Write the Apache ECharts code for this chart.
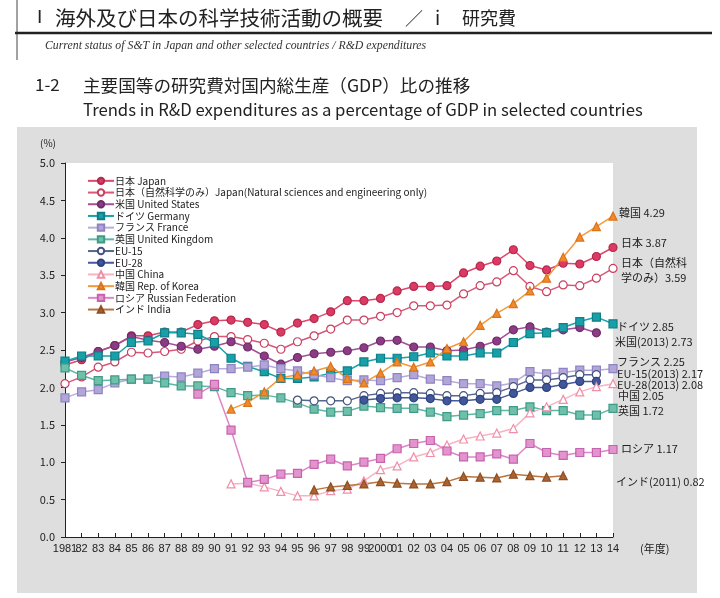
<!DOCTYPE html>
<html><head><meta charset="utf-8">
<script src="https://cdn.jsdelivr.net/npm/echarts@6/dist/echarts.min.js"></script>
<style>html,body{margin:0;padding:0;background:#fff}#c{width:720px;height:598px}</style>
</head><body><div id="c"></div>
<script>
const years = ['1981','82','83','84','85','86','87','88','89','90','91','92','93','94','95','96','97','98','99','2000','01','02','03','04','05','06','07','08','09','10','11','12','13','14'];
const yTicks = [0,0.5,1,1.5,2,2.5,3,3.5,4,4.5,5];
const japan = [2.30,2.37,2.48,2.56,2.69,2.69,2.74,2.74,2.84,2.89,2.90,2.87,2.84,2.74,2.86,2.92,3.01,3.16,3.16,3.19,3.29,3.35,3.35,3.36,3.53,3.62,3.69,3.84,3.63,3.57,3.66,3.65,3.75,3.87];
const japanNS = [2.05,2.14,2.27,2.34,2.47,2.46,2.48,2.51,2.62,2.68,2.68,2.64,2.59,2.51,2.61,2.69,2.78,2.90,2.90,2.95,3.00,3.09,3.09,3.10,3.25,3.36,3.41,3.56,3.35,3.28,3.37,3.36,3.46,3.59];
const us = [2.34,2.40,2.48,2.56,2.68,2.63,2.60,2.55,2.51,2.55,2.61,2.54,2.42,2.31,2.40,2.45,2.47,2.49,2.53,2.62,2.63,2.54,2.54,2.49,2.50,2.55,2.62,2.77,2.81,2.74,2.77,2.80,2.73,null];
const germany = [2.35,2.42,2.42,2.42,2.60,2.62,2.73,2.73,2.71,2.60,2.39,2.28,2.21,2.12,2.12,2.14,2.19,2.22,2.34,2.39,2.39,2.41,2.46,2.42,2.42,2.46,2.46,2.60,2.72,2.73,2.80,2.88,2.94,2.85];
const france = [1.86,1.94,1.97,2.06,2.11,2.11,2.15,2.14,2.19,2.25,2.25,2.27,2.30,2.25,2.22,2.17,2.13,2.09,2.10,2.09,2.13,2.17,2.11,2.09,2.05,2.05,2.02,2.06,2.21,2.18,2.20,2.23,2.23,2.25];
const uk = [2.26,2.16,2.09,2.10,2.11,2.11,2.06,2.02,2.02,2.01,1.93,1.89,1.90,1.86,1.79,1.71,1.67,1.68,1.75,1.73,1.72,1.72,1.67,1.61,1.63,1.65,1.69,1.69,1.74,1.69,1.69,1.63,1.63,1.72];
const eu15 = [null,null,null,null,null,null,null,null,null,null,null,null,null,null,1.83,1.82,1.82,1.82,1.89,1.92,1.93,1.93,1.92,1.89,1.89,1.92,1.93,2.01,2.10,2.10,2.13,2.17,2.17,null];
const eu28 = [null,null,null,null,null,null,null,null,null,null,null,null,null,null,null,null,null,null,1.83,1.85,1.86,1.86,1.85,1.82,1.82,1.84,1.84,1.92,2.00,2.00,2.04,2.08,2.08,null];
const china = [null,null,null,null,null,null,null,null,null,null,0.71,0.72,0.67,0.61,0.55,0.55,0.62,0.64,0.75,0.90,0.95,1.07,1.13,1.23,1.31,1.35,1.39,1.45,1.66,1.74,1.84,1.94,2.01,2.05];
const korea = [null,null,null,null,null,null,null,null,null,null,1.71,1.80,1.94,2.13,2.17,2.22,2.28,2.12,2.06,2.19,2.34,2.27,2.34,2.52,2.61,2.83,2.99,3.12,3.29,3.46,3.74,4.01,4.15,4.29];
const russia = [null,null,null,null,null,null,null,null,1.91,2.04,1.43,0.73,0.77,0.84,0.85,0.97,1.04,0.95,1.00,1.05,1.18,1.25,1.29,1.15,1.07,1.07,1.11,1.04,1.25,1.13,1.09,1.13,1.13,1.17];
const india = [null,null,null,null,null,null,null,null,null,null,null,null,null,null,null,0.63,0.67,0.69,0.71,0.74,0.72,0.71,0.71,0.74,0.81,0.80,0.79,0.84,0.82,0.80,0.82,null,null,null];
const seriesNames = ['日本 Japan','日本（自然科学のみ）Japan(Natural sciences and engineering only)','米国 United States','ドイツ Germany','フランス France','英国 United Kingdom','EU-15','EU-28','中国 China','韓国 Rep. of Korea','ロシア Russian Federation','インド India'];
const endLabels = [
  ['韓国 4.29',619,213],['日本 3.87',621,243],['日本（自然科',621,263],['学のみ）3.59',621,278],
  ['ドイツ 2.85',617,327],['米国(2013) 2.73',615,342],['フランス 2.25',617,362],['EU-15(2013) 2.17',617,374],
  ['EU-28(2013) 2.08',617,385],['中国 2.05',618,396],['英国 1.72',618,411],['ロシア 1.17',621,449],['インド(2011) 0.82',616,482]
];

const FONT = '"Noto Sans CJK JP", "Noto Sans", sans-serif';
function mk(i, data, color, symbol, size, fill, border) {
  return {
    name: seriesNames[i], type: 'line', data: data, symbol: symbol, symbolSize: size,
    connectNulls: false,
    lineStyle: {color: color, width: 1.5},
    itemStyle: {color: fill, borderColor: border, borderWidth: 1.2},
    emphasis: {disabled: true}
  };
}
const series = [
  mk(0, japan, '#e0476c', 'circle', 8, '#dc3a62', '#b22a4e'),
  mk(1, japanNS, '#d8587a', 'circle', 8, '#ffffff', '#c9405f'),
  mk(2, us, '#a0519a', 'circle', 8, '#8c3c84', '#6e2c68'),
  mk(3, germany, '#16a3ac', 'rect', 8, '#18a0a8', '#0f7e86'),
  mk(4, france, '#b7addb', 'rect', 8, '#b2a6d8', '#8f82c2'),
  mk(5, uk, '#5fb7a3', 'rect', 8, '#6fc0aa', '#3f9a86'),
  mk(6, eu15, '#566591', 'circle', 8, '#ffffff', '#44527f'),
  mk(7, eu28, '#46599a', 'circle', 8, '#41579a', '#2f4280'),
  mk(8, china, '#f7b3c4', 'triangle', 8, '#ffffff', '#f08fa8'),
  mk(9, korea, '#f39a3c', 'triangle', 8, '#f08a2c', '#d9741c'),
  mk(10, russia, '#dd86c7', 'rect', 8, '#e393cd', '#c563ad'),
  mk(11, india, '#b97440', 'triangle', 8, '#ab6430', '#8e4f22')
];

const graphic = [
  {type:'rect', z:-10, silent:true, shape:{x:17,y:127,width:680,height:466}, style:{fill:'#dedede'}},
  {type:'line', silent:true, shape:{x1:17,y1:0,x2:17,y2:60}, style:{stroke:'#444',lineWidth:1}},
  {type:'line', silent:true, shape:{x1:15,y1:33,x2:712,y2:33}, style:{stroke:'#222',lineWidth:2.5}},
  {type:'text', silent:true, x:37, y:18, style:{text:'Ⅰ', font:'18px "Liberation Serif", serif', fill:'#222', textVerticalAlign:'middle'}},
  {type:'text', silent:true, x:55, y:18, style:{text:'海外及び日本の科学技術活動の概要', font:'20.5px '+FONT, fill:'#222', textVerticalAlign:'middle'}},
  {type:'text', silent:true, x:405, y:18, style:{text:'／', font:'18px '+FONT, fill:'#222', textVerticalAlign:'middle'}},
  {type:'text', silent:true, x:435, y:18, style:{text:'i', font:'19px '+FONT, fill:'#222', textVerticalAlign:'middle'}},
  {type:'text', silent:true, x:462, y:18, style:{text:'研究費', font:'18px '+FONT, fill:'#222', textVerticalAlign:'middle'}},
  {type:'text', silent:true, x:45, y:46, style:{text:'Current status of S&T in Japan and other selected countries / R&D expenditures', font:'italic 11.8px "Liberation Serif", "DejaVu Serif", serif', fill:'#333', textVerticalAlign:'middle'}},
  {type:'text', silent:true, x:35, y:85, style:{text:'1-2', font:'17px '+FONT, fill:'#222', textVerticalAlign:'middle'}},
  {type:'text', silent:true, x:83, y:85, style:{text:'主要国等の研究費対国内総生産（GDP）比の推移', font:'17.6px '+FONT, fill:'#222', textVerticalAlign:'middle'}},
  {type:'text', silent:true, x:83, y:110, style:{text:'Trends in R&D expenditures as a percentage of GDP in selected countries', font:'16.7px '+FONT, fill:'#222', textVerticalAlign:'middle'}},
  {type:'text', silent:true, x:40, y:143, style:{text:'(%)', font:'10px '+FONT, fill:'#222', textVerticalAlign:'middle'}},
  {type:'text', silent:true, x:640, y:549, style:{text:'(年度)', font:'11px '+FONT, fill:'#222', textVerticalAlign:'middle'}}
];
endLabels.forEach(function(l){
  graphic.push({type:'text', silent:true, x:l[1], y:l[2], style:{text:l[0], font:'11px '+FONT, fill:'#222', textVerticalAlign:'middle'}});
});

const chart = echarts.init(document.getElementById('c'), null, {renderer:'canvas'});
chart.setOption({
  animation: false,
  backgroundColor: '#ffffff',
  textStyle: {fontFamily: FONT},
  grid: {left:65, right:107, top:163, bottom:61, show:true, backgroundColor:'#ffffff', borderWidth:0},
  legend: {
    orient:'vertical', left:82, top:170, itemWidth:26, itemHeight:8, itemGap:0,
    selectedMode:false, data: seriesNames,
    textStyle:{fontSize:10, color:'#222', fontFamily:FONT, lineHeight:11.7, padding:[0,0,0,-4]}
  },
  xAxis: {
    type:'category', data: years, boundaryGap:false,
    axisLine:{lineStyle:{color:'#222', width:1}},
    axisTick:{inside:true, length:4, alignWithLabel:true, lineStyle:{color:'#222'}},
    axisLabel:{interval:0, fontSize:11, color:'#222', margin:6, fontFamily:'"Liberation Sans Narrow", "Liberation Sans", sans-serif'}
  },
  yAxis: {
    type:'value', min:0, max:5, interval:0.5,
    axisLine:{show:true, lineStyle:{color:'#222', width:1}},
    axisTick:{show:true, length:4, lineStyle:{color:'#222'}},
    splitLine:{show:false},
    axisLabel:{fontSize:11, color:'#222', margin:10, formatter:function(v){return v.toFixed(1);}}
  },
  graphic: graphic,
  series: series
});
</script></body></html>
